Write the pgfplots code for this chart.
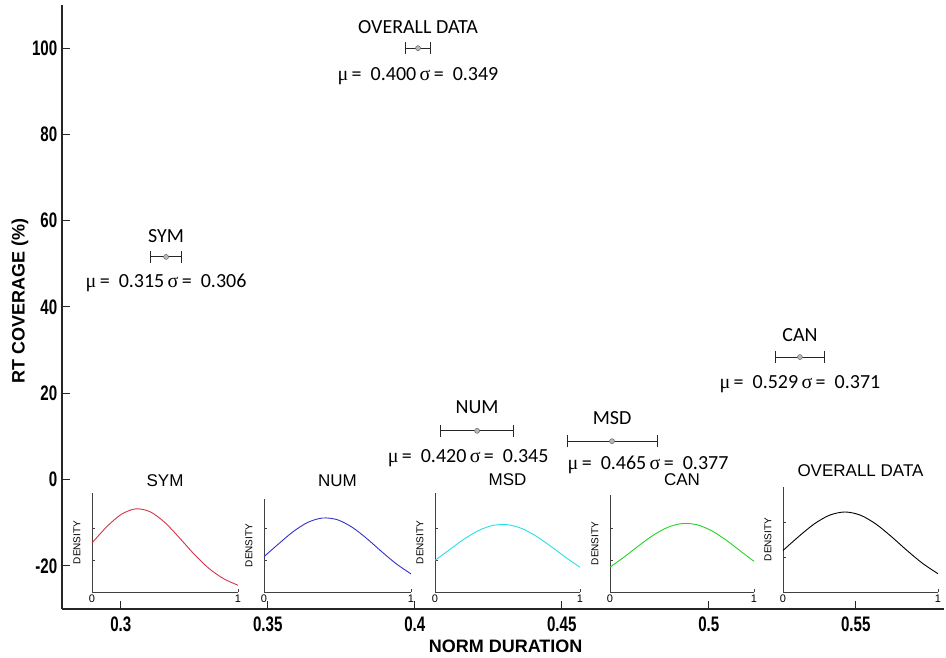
\documentclass[border=0pt]{standalone}
\usepackage{fontspec}
\setmainfont{Liberation Sans}
\newfontfamily\calib{Carlito}
\newfontfamily\greek{Liberation Serif}
\usepackage{pgfplots}
\pgfplotsset{compat=1.18}

\definecolor{symred}{RGB}{214,52,74}
\definecolor{numblue}{RGB}{50,50,200}
\definecolor{msdcyan}{RGB}{40,225,225}
\definecolor{cangreen}{RGB}{40,210,40}

\newcommand{\statfont}{\calib\fontsize{20}{21}\selectfont}
\newcommand{\stat}[2]{{\greek μ}\,= \ #1\,{\greek σ}\,= \ #2}

\pgfplotsset{
  inset/.style={
    scale only axis, anchor=south west,
    axis x line*=bottom, axis y line*=left,
    xmin=0, xmax=1, ymin=0,
    xtick={0,1}, xticklabels={0,1},
    ytick={0.5,1}, yticklabels={},
    tick align=inside, major tick length=3pt,
    axis line style={black!75, line width=0.7pt},
    tick style={black!75, line width=0.6pt},
    xticklabel style={font=\fontsize{11}{11}\selectfont, yshift=1pt},
    /pgf/number format/assume math mode=true,
    ylabel={DENSITY},
    ylabel style={at={(axis description cs:0,0.5)}, anchor=center, yshift=15pt, font=\fontsize{10}{10}\selectfont},
    title style={at={(0.5,1)}, anchor=base, font=\fontsize{17}{18}\selectfont},
    clip=false,
  },
  curve/.style={line width=0.9pt, smooth, no markers},
}

\begin{document}
\begin{tikzpicture}
\begin{axis}[
  scale only axis,
  width=882pt, height=604pt,
  xmin=0.28, xmax=0.58, ymin=-30, ymax=110,
  axis x line*=bottom, axis y line*=left,
  axis line style={black!85, line width=1.1pt},
  tick style={black!85, line width=1pt},
  tick align=inside, major tick length=8pt,
  xtick={0.3,0.35,0.4,0.45,0.5,0.55},
  xticklabels={0.3,0.35,0.4,0.45,0.5,0.55},
  ytick={-20,0,20,40,60,80,100},
  yticklabels={-20,0,20,40,60,80,100},
  /pgf/number format/assume math mode=true,
  xticklabel style={font=\bfseries\fontsize{21}{21}\selectfont, xscale=0.72, yshift=-4pt},
  yticklabel style={font=\bfseries\fontsize{21}{21}\selectfont, xscale=0.72, xshift=-3pt},
  xlabel={NORM DURATION},
  ylabel={RT COVERAGE (\%)},
  xlabel style={at={(axis description cs:0.503,0)}, anchor=center, yshift=-37pt, font=\bfseries\fontsize{18}{18}\selectfont},
  ylabel style={at={(axis description cs:0,0.51)}, anchor=center, yshift=42pt, font=\bfseries\fontsize{18}{18}\selectfont},
  clip=false,
]
\addplot[only marks, mark=*, mark size=2.5pt,
  mark options={fill=gray!55, draw=gray!80!black, line width=0.5pt},
  error bars/.cd, x dir=both, x explicit,
  error mark=|,
  error bar style={black!85, line width=1pt},
  error mark options={black!85, line width=1pt, mark size=6pt}]
coordinates {
  (0.3154,51.6) +- (0.0054,0)
  (0.4011,100.0) +- (0.0041,0)
  (0.4212,11.3) +- (0.0124,0)
  (0.4671,8.9) +- (0.0153,0)
  (0.5310,28.4) +- (0.0083,0)
};
\node[font=\statfont, anchor=base, yshift=14pt] at (axis cs:0.3154,51.6) {SYM};
\node[font=\statfont, anchor=base, yshift=-31pt] at (axis cs:0.3154,51.6) {\stat{0.315}{0.306}};
\node[font=\statfont, anchor=base, yshift=15pt] at (axis cs:0.4011,100) {OVERALL DATA};
\node[font=\statfont, anchor=base, yshift=-32pt] at (axis cs:0.4011,100) {\stat{0.400}{0.349}};
\node[font=\statfont, anchor=base, yshift=17pt] at (axis cs:0.4212,11.3) {NUM};
\node[font=\statfont, anchor=base, yshift=-32pt, xshift=-9pt] at (axis cs:0.4212,11.3) {\stat{0.420}{0.345}};
\node[font=\statfont, anchor=base, yshift=17pt] at (axis cs:0.4671,8.9) {MSD};
\node[font=\statfont, anchor=base, yshift=-28pt, xshift=36pt] at (axis cs:0.4671,8.9) {\stat{0.465}{0.377}};
\node[font=\statfont, anchor=base, yshift=16pt] at (axis cs:0.5310,28.4) {CAN};
\node[font=\statfont, anchor=base, yshift=-31pt] at (axis cs:0.5310,28.4) {\stat{0.529}{0.371}};
\end{axis}

% SYM inset
\begin{axis}[inset, at={(30pt,17pt)}, width=146pt, height=99pt, ymax=1.55,
  title={SYM}, title style={yshift=0pt}]
\addplot[curve, symred] coordinates {
 (0,0.767) (0.1,1.019) (0.2,1.215) (0.3,1.302) (0.4,1.254) (0.5,1.086)
 (0.6,0.845) (0.7,0.591) (0.8,0.371) (0.9,0.210) (1,0.106)};
\end{axis}

% NUM inset
\begin{axis}[inset, at={(202pt,17pt)}, width=147pt, height=93pt, ymax=1.45,
  title={NUM}, title style={yshift=6pt}]
\addplot[curve, numblue] coordinates {
 (0,0.551) (0.1,0.752) (0.2,0.944) (0.3,1.088) (0.4,1.154) (0.5,1.126)
 (0.6,1.009) (0.7,0.832) (0.8,0.630) (0.9,0.439) (1,0.282)};
\end{axis}

% MSD inset
\begin{axis}[inset, at={(373pt,17pt)}, width=145pt, height=99pt, ymax=1.55,
  title={MSD}, title style={yshift=1pt}]
\addplot[curve, msdcyan] coordinates {
 (0,0.495) (0.1,0.662) (0.2,0.827) (0.3,0.962) (0.4,1.043) (0.5,1.054)
 (0.6,0.993) (0.7,0.871) (0.8,0.713) (0.9,0.544) (1,0.387)};
\end{axis}

% CAN inset
\begin{axis}[inset, at={(548pt,17pt)}, width=144pt, height=97pt, ymax=1.52,
  title={CAN}, title style={yshift=3pt}]
\addplot[curve, cangreen] coordinates {
 (0,0.389) (0.1,0.551) (0.2,0.726) (0.3,0.889) (0.4,1.012) (0.5,1.072)
 (0.6,1.056) (0.7,0.967) (0.8,0.824) (0.9,0.652) (1,0.480)};
\end{axis}

% OVERALL inset
\begin{axis}[inset, at={(721pt,17pt)}, width=155pt, height=105pt, ymax=1.5,
  title={OVERALL DATA}, title style={yshift=4pt}]
\addplot[curve, black] coordinates {
 (0,0.593) (0.1,0.790) (0.2,0.970) (0.3,1.097) (0.4,1.143) (0.5,1.097)
 (0.6,0.970) (0.7,0.790) (0.8,0.593) (0.9,0.410) (1,0.261)};
\end{axis}

\pgfresetboundingbox
\path (-62pt,-49pt) rectangle (884pt,609pt);
\end{tikzpicture}
\end{document}
